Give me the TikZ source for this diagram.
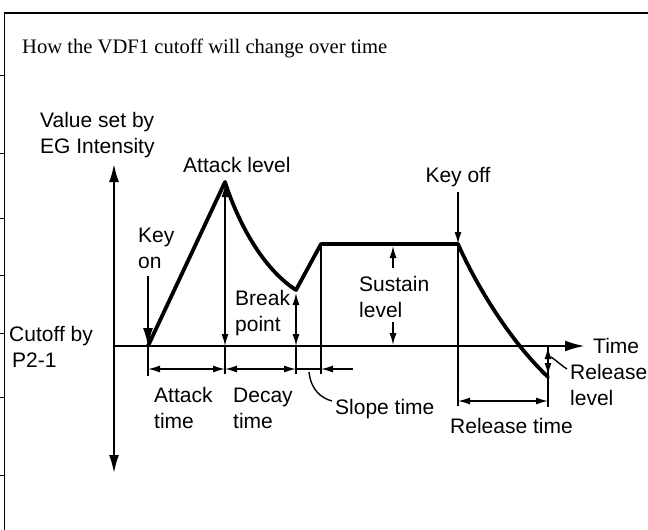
\documentclass[tikz,border=0pt]{standalone}
\usepackage{fontspec}
\setmainfont{Liberation Serif}
\setsansfont{Liberation Sans}
\usetikzlibrary{arrows.meta}
\begin{document}
\begin{tikzpicture}[x=1pt,y=-1pt,
  lbl/.style={font=\sffamily\fontsize{21}{26}\selectfont, inner sep=0pt, align=left},
  env/.style={line width=3.8pt, line join=round, line cap=round},
  thinl/.style={line width=1.4pt},
  sarr/.style={thinl,-{Latex[length=12pt,width=7pt]}},
  darr/.style={thinl,{Latex[length=12pt,width=7pt]}-{Latex[length=12pt,width=7pt]}},
  bigarr/.style={line width=1.6pt,-{Latex[length=18pt,width=10pt]}},
]
\useasboundingbox (0,0) rectangle (648,530);
% frame
\draw[line width=1.5pt] (4.5,530) -- (4.5,13) -- (648,13);
\foreach \ty in {75,153,218,275,333,397,475}
  \draw[line width=1pt] (0,\ty) -- (4.5,\ty);

% title
\node[anchor=base west, inner sep=0pt, font=\fontsize{20.6}{24}\selectfont] (title) at (22,53)
  {How the VDF1 cutoff will change over time};

% key points
\coordinate (start) at (148,346);
\coordinate (peak) at (225,182);
\coordinate (brk) at (296,290);
\coordinate (sus1) at (321,244);
\coordinate (koff) at (458,244);
\coordinate (rend) at (548,377);

% axes
\coordinate (vtop) at (114,164);
\coordinate (vbot) at (114,473);
\coordinate (horg) at (114,346);
\coordinate (hend) at (585,346);
\draw[line width=2pt,{Latex[length=18pt,width=10pt]}-{Latex[length=18pt,width=10pt]}] (vbot) -- (vtop);
\draw[line width=2.6pt,-{Latex[length=20pt,width=11pt]}] (horg) -- (hend);

% vertical guide lines
\draw[thinl] (148,346) -- (148,376);
\draw[thinl] (225,346) -- (225,374);
\draw[thinl] (296,346) -- (296,374);
\draw[thinl] (sus1) -- (321,374);
\draw[thinl] (koff) -- (458,406);
\draw[thinl] (548,346) -- (548,407);

% envelope
\draw[env] (start) -- (peak)
  .. controls (238,222) and (262,268) .. (brk)
  -- (sus1) -- (koff)
  .. controls (472,276) and (505,336) .. (rend);

% level arrows
\draw[darr] (225,346) -- (225,185);
\draw[darr] (296,346) -- (296,293);
\draw[sarr] (393,268) -- (393,246);
\draw[sarr] (393,322) -- (393,345);
\draw[darr] (548,347) -- (548,375);

% key on / key off
\node[lbl, anchor=base west] (keyon) at (138,268) {Key\\on};
\draw[bigarr] (148,276) -- (start);
\node[lbl, anchor=base] (keyoff) at (458,182) {Key off};
\draw[sarr] (458,192) -- (koff);

% time dimension arrows
\draw[darr] (148,369) -- (225,369);
\draw[darr] (225,369) -- (296,369);
\draw[thinl] (296,369) -- (321,369);
\draw[sarr] (353,369) -- (321,369);
\draw[darr] (458,401) -- (548,401);

% labels
\node[lbl, anchor=base west] (vset) at (40,153) {Value set by\\EG Intensity};
\node[lbl, anchor=base west] (atklvl) at (183,172) {Attack level};
\node[lbl, anchor=base west] (break) at (235,331) {Break\\point};
\node[lbl, anchor=base west] (sustain) at (359,317) {Sustain\\level};
\node[lbl, anchor=base west] (cutoff) at (9,367) {Cutoff by\\\hspace*{3pt}P2-1};
\node[lbl, anchor=base west] (atkt) at (154,428) {Attack\\time};
\node[lbl, anchor=base west] (dect) at (233,428) {Decay\\time};
\node[lbl, anchor=base west] (slopet) at (335,414) {Slope time};
\node[lbl, anchor=base west] (relt) at (450,433) {Release time};
\node[lbl, anchor=base west] (timel) at (593,353) {Time};
\node[lbl, anchor=base west] (rellvl) at (570,405) {Release\\level};

% leaders
\draw[thinl] (309,372) .. controls (311,390) and (321,398) .. (332,401);
\draw[thinl] (551,357) .. controls (557,361) and (562,366) .. (567,369);
\end{tikzpicture}
\end{document}
